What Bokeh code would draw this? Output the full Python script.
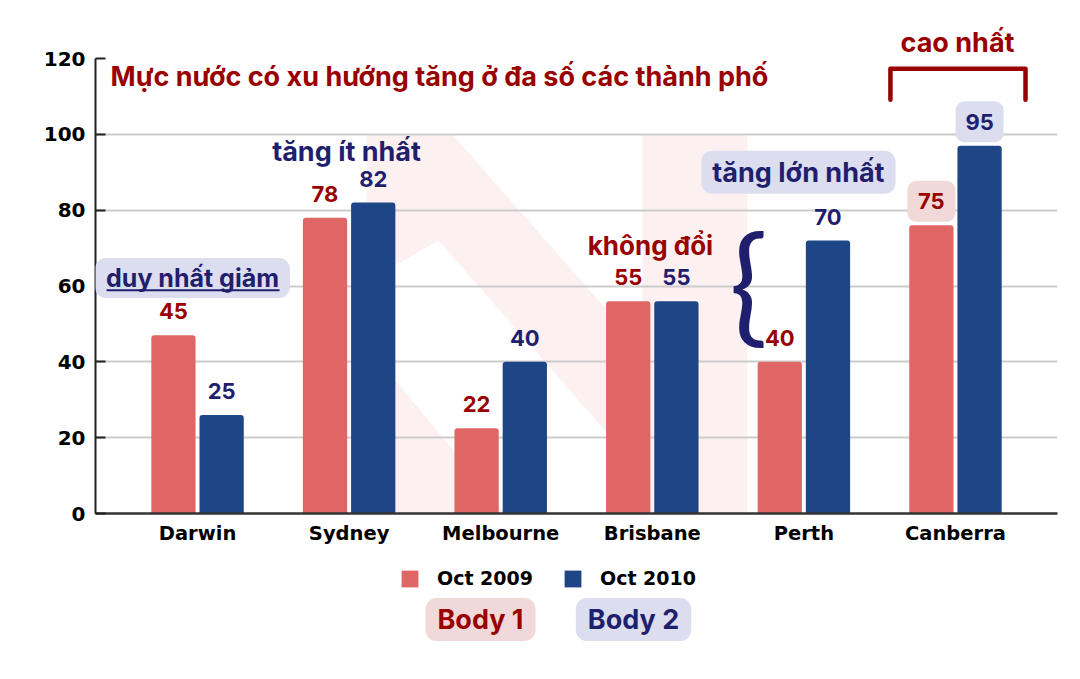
from bokeh.plotting import figure
from bokeh.layouts import column
from bokeh.models import (ColumnDataSource, FactorRange, Range1d, Label, Legend, LegendItem,
                          PolyAnnotation, FixedTicker, Arrow, Title)
from bokeh.transform import dodge
from bokeh.core.properties import value
from bokeh.embed import file_html
from bokeh.resources import INLINE

# ---------------- data ----------------
cities = ["Darwin", "Sydney", "Melbourne", "Brisbane", "Perth", "Canberra"]
oct_2009 = [47, 78, 22.5, 56, 40, 76]          # bar heights as drawn
oct_2010 = [26, 82, 40, 56, 72, 97]
label_2009 = ["45", "78", "22", "55", "40", "75"]   # printed value labels
label_2010 = ["25", "82", "40", "55", "70", "95"]
series_names = ["Oct 2009", "Oct 2010"]
y_ticks = [0, 20, 40, 60, 80, 100, 120]
highlight_city = "Canberra"

title_text = "Mực nước có xu hướng tăng ở đa số các thành phố"
notes = {
    "decrease": "duy nhất giảm",
    "least": "tăng ít nhất",
    "same": "không đổi",
    "most": "tăng lớn nhất",
    "highest": "cao nhất",
}
body_texts = ["Body 1", "Body 2"]

# ---------------- style ----------------
RED_BAR = "#E06666"
BLUE_BAR = "#1E4586"
DARK_RED = "#990000"
NAVY = "#1F1F6E"
LAVENDER = "#DCDDEF"
PINK = "#F2D9D9"
WATERMARK = "#FDF0F1"
AXIS_FONT = "DejaVu Sans"
NOTE_FONT = "Inter"

W = 1064
H_MAIN = 560
H_FOOT = 103
FRAME_L, FRAME_R = 95, 1057
BAR_W = 0.292
DODGE = 0.159
PX_PER_UNIT = 455 / 120.0
LABEL_GAP = 24 / PX_PER_UNIT

p = figure(width=W, height=H_MAIN,
           x_range=FactorRange(*cities, range_padding=0.0577),
           y_range=Range1d(0, 120),
           output_backend="svg", toolbar_location=None, title=None,
           min_border_left=FRAME_L, min_border_right=W - FRAME_R,
           min_border_top=58, min_border_bottom=47)
p.outline_line_color = None
p.background_fill_color = "white"
p.border_fill_color = "white"

# faint watermark (decorative background shapes)
wm1_x = [1.615, 2.188, 3.435, 3.435, 4.128, 4.128, 3.435, 3.435, 2.090, 1.839, 1.615]
wm1_y = [99.7, 99.7, 43.0, 99.7, 99.7, -7.6, -7.6, 10.6, 72.0, 66.2, 66.2]
wm2_x = [1.615, 1.806, 2.531, 2.696, 1.615]
wm2_y = [44.3, 35.1, 0.0, -7.6, -7.6]
for xs, ys in ((wm1_x, wm1_y), (wm2_x, wm2_y)):
    p.add_layout(PolyAnnotation(xs=xs, ys=ys, fill_color=WATERMARK, fill_alpha=1.0,
                                line_color=None, level="image"))

# axes / grid
p.ygrid.grid_line_color = "#CCCCCC"
p.ygrid.grid_line_width = 2
p.xgrid.grid_line_color = None

p.yaxis.ticker = FixedTicker(ticks=y_ticks)
p.yaxis.axis_line_color = "#222222"
p.yaxis.axis_line_width = 2
p.yaxis.major_tick_in = 10
p.yaxis.major_tick_out = 0
p.yaxis.major_tick_line_width = 2
p.yaxis.major_tick_line_color = "#222222"
p.yaxis.minor_tick_line_color = None
p.yaxis.major_label_standoff = 10
p.yaxis.major_label_text_font = AXIS_FONT
p.yaxis.major_label_text_font_style = "bold"
p.yaxis.major_label_text_font_size = "20px"
p.yaxis.major_label_text_color = "black"

p.xaxis.axis_line_color = "#333333"
p.xaxis.axis_line_width = 2.5
p.xaxis.major_tick_in = 0
p.xaxis.major_tick_out = 0
p.xaxis.major_label_standoff = 8
p.xaxis.major_label_text_font = AXIS_FONT
p.xaxis.major_label_text_font_style = "bold"
p.xaxis.major_label_text_font_size = "19.5px"
p.xaxis.major_label_text_color = "black"

# bars
src = ColumnDataSource(dict(
    city=cities, v09=oct_2009, v10=oct_2010, l09=label_2009, l10=label_2010,
    y09=[v + LABEL_GAP for v in oct_2009], y10=[v + LABEL_GAP for v in oct_2010],
))
r09 = p.vbar(x=dodge("city", -DODGE, range=p.x_range), top="v09", width=BAR_W, source=src,
             fill_color=RED_BAR, line_color=None, border_radius=(3, 3, 0, 0))
r10 = p.vbar(x=dodge("city", DODGE, range=p.x_range), top="v10", width=BAR_W, source=src,
             fill_color=BLUE_BAR, line_color=None, border_radius=(3, 3, 0, 0))

# highlight boxes behind the Canberra values
hi = cities.index(highlight_city)
hsrc = ColumnDataSource(dict(city=[highlight_city], y09=[oct_2009[hi] + LABEL_GAP],
                             y10=[oct_2010[hi] + LABEL_GAP]))
p.rect(x=dodge("city", -DODGE, range=p.x_range), y="y09", width=48, height=41,
       width_units="screen", height_units="screen", source=hsrc,
       fill_color=PINK, line_color=None, border_radius=9)
p.rect(x=dodge("city", DODGE, range=p.x_range), y="y10", width=48, height=41,
       width_units="screen", height_units="screen", source=hsrc,
       fill_color=LAVENDER, line_color=None, border_radius=9)

# value labels
p.text(x=dodge("city", -DODGE, range=p.x_range), y="y09", text="l09", source=src,
       text_align="center", text_baseline="middle", text_font=value(NOTE_FONT),
       text_font_style="bold", text_font_size="22px", text_color=DARK_RED)
p.text(x=dodge("city", DODGE, range=p.x_range), y="y10", text="l10", source=src,
       text_align="center", text_baseline="middle", text_font=value(NOTE_FONT),
       text_font_style="bold", text_font_size="22px", text_color=NAVY)

# bracket over Canberra
p.line(x=[5.071, 5.071, 5.962, 5.962], y=[109.1, 117.3, 117.3, 109.1],
       line_color=DARK_RED, line_width=4.5, line_join="round", line_cap="round")


def note(fig, text, x, y, color, size="27px", align="center", bg=None, pad=None,
         font=NOTE_FONT, style="bold"):
    kw = dict(x=x, y=y, text=text, text_align=align, text_baseline="middle",
              text_font=font, text_font_style=style, text_font_size=size, text_color=color)
    if bg is not None:
        kw.update(background_fill_color=bg, border_radius=11, padding=pad)
    lab = Label(**kw)
    fig.add_layout(lab)
    return lab


note(p, title_text, -0.074, 115.3, DARK_RED, size="27px", align="left")
note(p, notes["decrease"], 0.467, 62.1, NAVY, size="25px", bg=LAVENDER,
     pad=dict(left=11, right=11, top=5, bottom=5))
p.add_layout(Arrow(end=None, x_start=-0.100, y_start=58.9, x_end=1.041, y_end=58.9,
                   line_color=NAVY, line_width=2))
note(p, notes["least"], 1.483, 95.5, NAVY, size="27px")
note(p, notes["same"], 3.488, 70.7, DARK_RED, size="26px")
note(p, notes["most"], 4.464, 90.0, NAVY, size="27px", bg=LAVENDER,
     pad=dict(left=11, right=11, top=5, bottom=5))
note(p, "{", 4.134, 61.7, NAVY, size="128px", font="Lato", style="normal")

# "cao nhất" sits above the frame: use a title in the top panel
p.add_layout(Title(text=notes["highest"], align="left", offset=805, standoff=0,
                   text_font=NOTE_FONT, text_font_style="bold", text_font_size="27px",
                   text_color=DARK_RED), "above")

# ---------------- footer: legend + body tags ----------------
# the footer frame is aligned with the main frame, so its x range maps page pixels
f = figure(width=W, height=H_FOOT, x_range=Range1d(FRAME_L, FRAME_R),
           y_range=Range1d(H_FOOT, 0),
           x_axis_type=None, y_axis_type=None, output_backend="svg",
           toolbar_location=None, title=None, min_border=0)
f.outline_line_color = None
f.grid.visible = False
k09 = f.vbar(x=[-1000], top=[0], bottom=[0], width=1, fill_color=RED_BAR, line_color=None)
k10 = f.vbar(x=[-1000], top=[0], bottom=[0], width=1, fill_color=BLUE_BAR, line_color=None)
legend = Legend(items=[LegendItem(label=series_names[0], renderers=[k09]),
                       LegendItem(label=series_names[1], renderers=[k10])],
                orientation="horizontal", location=(399 - FRAME_L, 74),
                glyph_width=21, glyph_height=21, label_standoff=17, spacing=29,
                padding=0, margin=0, border_line_color=None, background_fill_alpha=0,
                label_text_font=AXIS_FONT, label_text_font_style="bold",
                label_text_font_size="19px", label_text_color="black")
f.add_layout(legend, "center")

note(f, body_texts[0], 480, 59, DARK_RED, size="27px", bg=PINK,
     pad=dict(left=12, right=12, top=5, bottom=5))
note(f, body_texts[1], 633, 59, NAVY, size="27px", bg=LAVENDER,
     pad=dict(left=12, right=12, top=5, bottom=5))

open("out.html", "w").write(file_html(column(p, f, spacing=0), INLINE))
